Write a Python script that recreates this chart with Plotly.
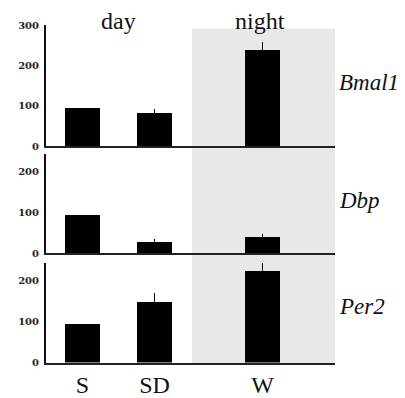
import plotly.graph_objects as go

categories = ["S", "SD", "W"]
x_pos = [1, 2, 3.5]
genes = ["Bmal1", "Dbp", "Per2"]
bmal1 = [94, 83, 238]
bmal1_err = [0, 8, 20]
dbp = [94, 28, 40]
dbp_err = [0, 7, 8]
per2 = [94, 148, 223]
per2_err = [0, 22, 27]
series = [bmal1, dbp, per2]
errors = [bmal1_err, dbp_err, per2_err]
y_max = [300, 243, 243]
y_ticks = [[0, 100, 200, 300], [0, 100, 200], [0, 100, 200]]

# page body has an 8px margin: draw the figure 8px smaller and shift coordinates
OFF = 8
W, H = 405 - OFF, 398 - OFF
def px(v):
    return v - OFF

# pixel geometry in page coords: (zero y, top y) per panel
panels_px = [(146.5, 20.5), (258.0, 155.0), (371.5, 268.0)]

fig = go.Figure()
serif = "'Liberation Serif', 'Times New Roman', Times, serif"

for i in range(3):
    xa = "x" if i == 0 else f"x{i+1}"
    ya = "y" if i == 0 else f"y{i+1}"
    fig.add_trace(go.Bar(
        x=x_pos, y=series[i], width=0.49,
        marker=dict(color="black", line=dict(width=0)),
        error_y=dict(type="data", symmetric=False, array=errors[i],
                     arrayminus=[0, 0, 0], color="black", thickness=1.5, width=0),
        xaxis=xa, yaxis=ya, showlegend=False,
    ))
    z, t = panels_px[i]
    dom = [(H - px(z)) / H, (H - px(t)) / H]
    xkey = "xaxis" if i == 0 else f"xaxis{i+1}"
    ykey = "yaxis" if i == 0 else f"yaxis{i+1}"
    fig.layout[xkey] = dict(
        domain=[px(46) / W, px(335) / W], range=[0.493, 4.507], anchor=ya,
        showgrid=False, zeroline=False, showline=True, linecolor="#222", linewidth=1.5,
        tickvals=x_pos if i == 2 else [], ticktext=categories if i == 2 else [],
        ticks="", tickfont=dict(family=serif, size=24, color="#111"),
        showticklabels=(i == 2), fixedrange=True,
    )
    fig.layout[ykey] = dict(
        domain=dom, range=[0, y_max[i]], anchor=xa,
        showgrid=False, zeroline=False, showline=True, linecolor="#111", linewidth=2,
        tickvals=y_ticks[i], ticks="", ticklabelstandoff=3,
        tickfont=dict(family="'DejaVu Serif', serif", size=10, color="#222", weight="bold"),
    )
    gene_y = [80, 203, 313][i]
    fig.add_annotation(
        x=px(337) / W, y=(H - px(gene_y)) / H, xref="paper", yref="paper",
        text=f"<i>{genes[i]}</i>", showarrow=False, xanchor="left", yanchor="middle",
        font=dict(family=serif, size=23, color="#111"),
    )

# night shading
fig.add_shape(type="rect", xref="x3", yref="paper", x0=2.52, x1=4.507,
              y0=(H - px(372)) / H, y1=(H - px(24)) / H,
              fillcolor="#e8e8e8", line=dict(width=0), layer="below")

for label, cx in [("day", 118), ("night", 260)]:
    fig.add_annotation(x=px(cx) / W, y=(H - px(16)) / H, xref="paper", yref="paper",
                       text=label, showarrow=False, xanchor="center", yanchor="middle",
                       font=dict(family=serif, size=24, color="#111"))

fig.update_layout(
    width=W, height=H, margin=dict(l=0, r=0, t=0, b=0),
    paper_bgcolor="white", plot_bgcolor="rgba(0,0,0,0)", bargap=0,
)
fig.write_html("out.html")
